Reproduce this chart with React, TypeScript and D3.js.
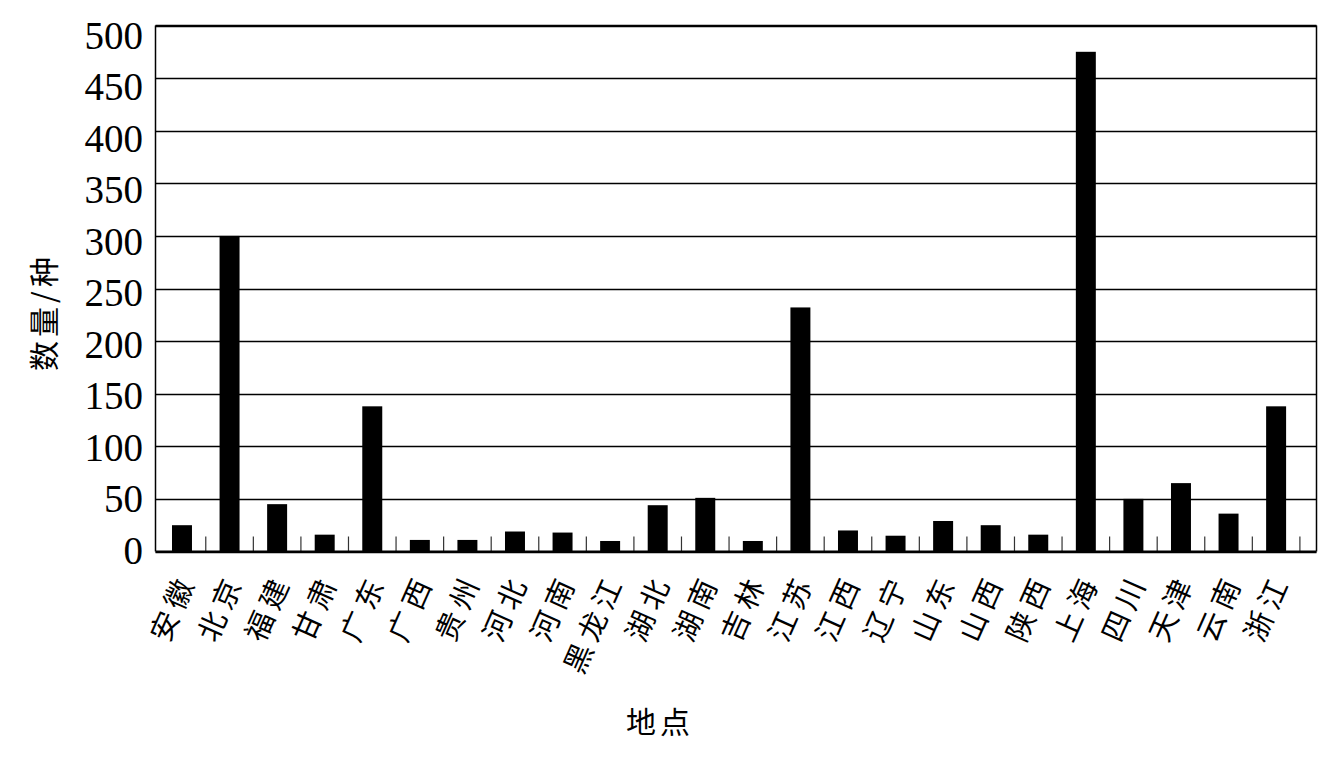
import React from "react";
import * as d3 from "d3";

const categories = ["安徽","北京","福建","甘肃","广东","广西","贵州","河北","河南","黑龙江","湖北","湖南","吉林","江苏","江西","辽宁","山东","山西","陕西","上海","四川","天津","云南","浙江"];
const values = [25,300,45,16,138,11,11,19,18,10,44,51,10,232,20,15,29,25,16,475,50,65,36,138];
const yTicks = [0,50,100,150,200,250,300,350,400,450,500];
const xTitle = "地点";
const yTitle = "数量/种";

const W = 1336, H = 758;
const frameL = 155.5, frameR = 1316.5, frameT = 25.5, frameB = 551.5;

export default function App() {
  const x = d3.scaleBand<string>().domain(categories).range([158.2, 1299.9]).paddingInner(0.58).paddingOuter(0.29);
  const y = d3.scaleLinear().domain([0, 500]).range([frameB, frameT]);
  const yLab = d3.scaleLinear().domain([0, 500]).range([550.5, 35]);
  const step = x.step();
  const serif = "'Liberation Serif', 'Noto Sans CJK SC', serif";
  const cjk = "'Noto Sans CJK SC', 'Liberation Serif', serif";
  return (
    <svg width={W} height={H} style={{ position: "absolute", left: 0, top: 0, background: "#fff" }}>
      {yTicks.map((t) => (
        <line key={"g" + t} x1={frameL} x2={frameR} y1={Math.round(y(t)) + 0.5} y2={Math.round(y(t)) + 0.5} stroke="#000" strokeWidth={1.3} />
      ))}
      {categories.map((c, i) => (
        <rect key={"b" + c} x={x(c)!} y={y(values[i])} width={x.bandwidth()} height={frameB - y(values[i])} fill="#000" />
      ))}
      {categories.map((c) => {
        const tx = x(c)! + x.bandwidth() / 2 + step / 2;
        return <line key={"t" + c} x1={tx} x2={tx} y1={frameB - 15} y2={frameB} stroke="#333" strokeWidth={1.2} />;
      })}
      <line x1={frameL} x2={frameL} y1={frameT} y2={frameB} stroke="#000" strokeWidth={1.5} />
      <line x1={frameR} x2={frameR} y1={frameT} y2={frameB} stroke="#000" strokeWidth={1.5} />
      <line x1={frameL} x2={frameR} y1={frameT} y2={frameT} stroke="#000" strokeWidth={1.5} />
      <line x1={frameL} x2={frameR} y1={frameB} y2={frameB} stroke="#000" strokeWidth={1.8} />
      {yTicks.map((t) => (
        <text key={"l" + t} x={143} y={yLab(t)} textAnchor="end" dominantBaseline="central" fontFamily={serif} fontSize={39} fill="#000">
          {t}
        </text>
      ))}
      {categories.map((c) => {
        const cx = x(c)! + x.bandwidth() / 2 + 3;
        const cy = frameB + 23;
        return (
          <text key={"x" + c} x={cx} y={cy} transform={`rotate(-66, ${cx}, ${cy})`} textAnchor="end" dominantBaseline="central" fontFamily={cjk} fontSize={29} letterSpacing={6} fill="#000">
            {c}
          </text>
        );
      })}
      <text x={660} y={720} textAnchor="middle" dominantBaseline="central" fontFamily={cjk} fontSize={30} letterSpacing={4} fill="#000">
        {xTitle}
      </text>
      <text x={42} y={312} transform="rotate(-90, 42, 312)" textAnchor="middle" dominantBaseline="central" fontFamily={cjk} fontSize={30} letterSpacing={4} fill="#000">
        {yTitle}
      </text>
    </svg>
  );
}
